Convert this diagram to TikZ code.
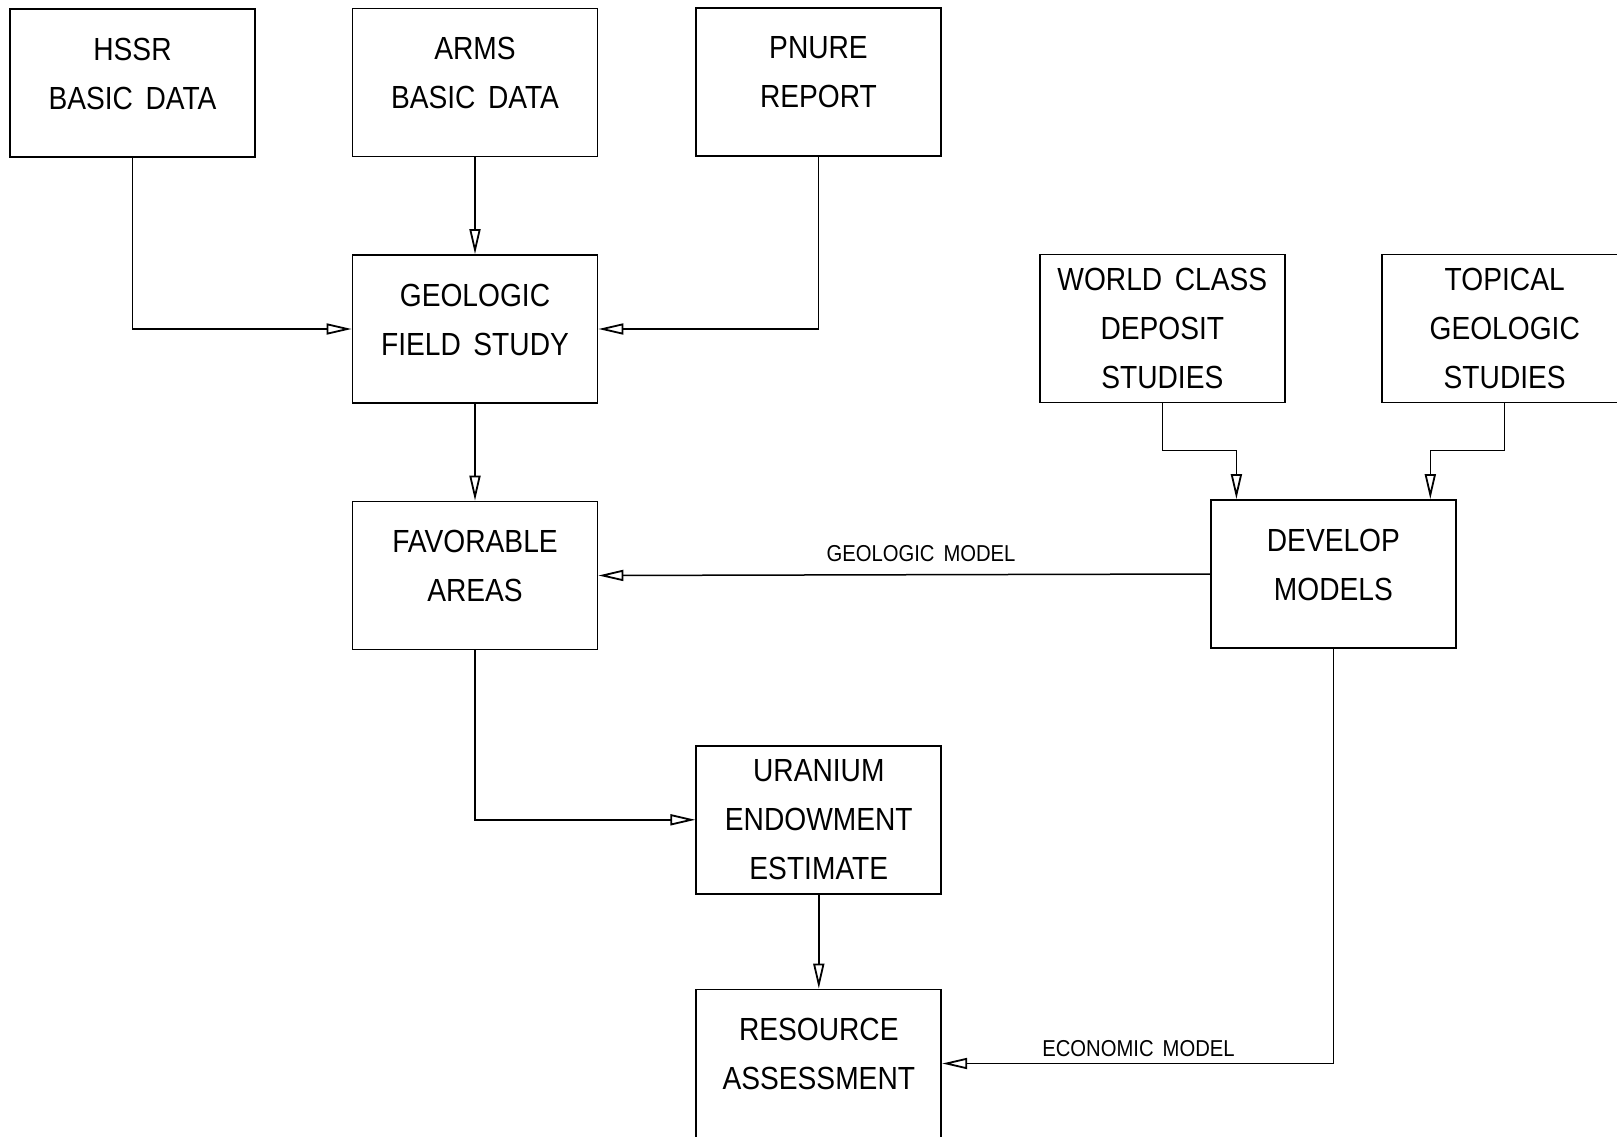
\documentclass[tikz,border=0pt]{standalone}
\usepackage{fontspec}
\setmainfont{Liberation Sans}[FakeStretch=0.88, WordSpace=1.6]
\usetikzlibrary{arrows.meta,calc}
\tikzset{
  box/.style={draw, line width=1.8pt, minimum width=245pt, minimum height=148pt, inner sep=0pt},
  txt/.style={align=center, inner sep=0pt, font=\fontsize{32pt}{49pt}\selectfont},
  lab/.style={inner sep=0pt, font=\fontsize{23pt}{28pt}\selectfont},
  arr/.style={line width=1.5pt, -{Triangle[open,length=25pt,width=11pt,line width=1.8pt]}}
}
\begin{document}
\begin{tikzpicture}[x=1pt,y=-1pt]
\useasboundingbox (0,0) rectangle (1617,1137);
% boxes
\node[box] (hssr) at (132.5,83) {};
\node[box] (arms) at (475,82.5) {};
\node[box] (pnure) at (818.5,82) {};
\node[box] (geo) at (475,329) {};
\node[box] (fav) at (475,575.5) {};
\node[box] (world) at (1162.3,328.5) {};
\node[box] (topical) at (1504.7,328.5) {};
\node[box] (dev) at (1333.4,574) {};
\node[box] (uran) at (818.8,819.8) {};
\node[box] (res) at (818.8,1063.5) {};
% texts
\node[txt] (hssrT) at ([yshift=9.5pt]hssr.center) {HSSR\\BASIC DATA};
\node[txt] (armsT) at ([yshift=9.5pt]arms.center) {ARMS\\BASIC DATA};
\node[txt] (pnureT) at ([yshift=9.5pt]pnure.center) {PNURE\\REPORT};
\node[txt] (geoT) at ([yshift=9.5pt]geo.center) {GEOLOGIC\\FIELD STUDY};
\node[txt] (favT) at ([yshift=9.5pt]fav.center) {FAVORABLE\\AREAS};
\node[txt] (worldT) at (world.center) {WORLD CLASS\\DEPOSIT\\STUDIES};
\node[txt] (topicalT) at (topical.center) {TOPICAL\\GEOLOGIC\\STUDIES};
\node[txt] (devT) at ([yshift=9.5pt]dev.center) {DEVELOP\\MODELS};
\node[txt] (uranT) at (uran.center) {URANIUM\\ENDOWMENT\\ESTIMATE};
\node[txt] (resT) at ([yshift=9.5pt]res.center) {RESOURCE\\ASSESSMENT};
% labels
\node[lab] (geomodel) at (921,553.8) {GEOLOGIC MODEL};
\node[lab] (ecomodel) at (1138.5,1048.8) {ECONOMIC MODEL};
% connectors
\coordinate (wk) at (1236.4,450.7);
\coordinate (tk) at (1430.3,450.7);
\draw[arr] (hssr.south) |- (geo.west);
\draw[arr] (arms.south) -- (geo.north);
\draw[arr] (pnure.south) |- (geo.east);
\draw[arr] (geo.south) -- (fav.north);
\draw[arr] (world.south) |- (wk) -- (wk |- dev.north);
\draw[arr] (topical.south) |- (tk) -- (tk |- dev.north);
\draw[arr] (dev.west) -- (fav.east);
\draw[arr] (fav.south) |- (uran.west);
\draw[arr] (uran.south) -- (res.north);
\draw[arr] (dev.south) |- (res.east);
\end{tikzpicture}
\end{document}
